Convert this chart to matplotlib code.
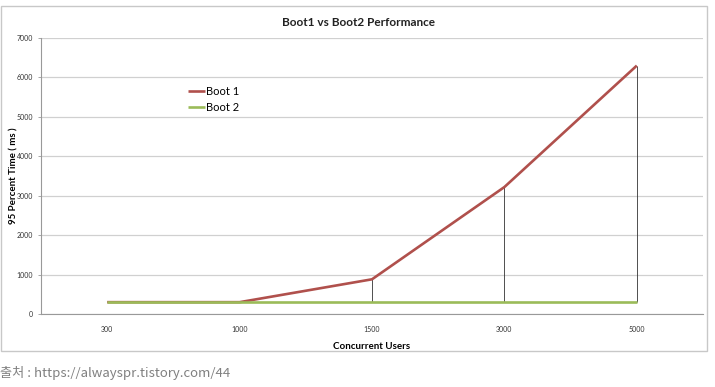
import matplotlib
matplotlib.use("Agg")
import matplotlib.pyplot as plt
from matplotlib.patches import Rectangle

categories = ["300", "1000", "1500", "3000", "5000"]
boot1 = [300, 300, 880, 3220, 6300]
boot2 = [300, 300, 300, 300, 300]
yticks = [0, 1000, 2000, 3000, 4000, 5000, 6000, 7000]

plt.rcParams['font.family'] = ['Lato', 'DejaVu Sans']

fig = plt.figure(figsize=(7.15, 3.87), dpi=100)
fig.patch.set_facecolor("white")

# chart frame
fig.patches.append(Rectangle((1/715, 1-351/387), 706/715, 345/387, transform=fig.transFigure,
                             fill=False, edgecolor="#c8c8c8", linewidth=1.0))

ax = fig.add_axes([41/715, 1-314/387, 662/715, 276/387])
x = list(range(len(categories)))

# high-low lines
ax.vlines(x, boot2, boot1, colors="#333333", linewidth=0.6, zorder=2)
ax.plot(x, boot1, color="#B0504C", linewidth=1.9, label="Boot 1", zorder=3, solid_capstyle="butt")
ax.plot(x, boot2, color="#9BBB59", linewidth=1.9, label="Boot 2", zorder=4, solid_capstyle="butt")

ax.set_xlim(-0.5, len(categories) - 0.5)
ax.set_ylim(0, 7000)
ax.set_yticks(yticks)
ax.set_yticklabels([str(v) for v in yticks], fontsize=5, color="#333333")
ax.set_xticks(x)
ax.set_xticklabels(categories, fontsize=5, color="#333333")
ax.tick_params(axis='x', length=0, pad=9)
ax.tick_params(axis='y', length=2.5, width=0.6, color="#999999", pad=3)
ax.grid(axis='y', color="#d0d0d0", linewidth=0.9)
ax.set_axisbelow(True)
for s in ["top", "right"]:
    ax.spines[s].set_visible(False)
for s in ["left", "bottom"]:
    ax.spines[s].set_color("#999999")
    ax.spines[s].set_linewidth(0.8)

ax.set_xlabel("Concurrent Users", fontsize=7, fontweight="bold", labelpad=6)
ax.set_ylabel("95 Percent Time ( ms )", fontsize=7, fontweight="bold")
ax.yaxis.set_label_coords(-0.034, 0.5)

fig.text(358/715, 1-22/387, "Boot1 vs Boot2 Performance", ha="center", va="center",
         fontsize=8.5, fontweight="bold", color="#222222")

ax.legend(loc="upper left", bbox_to_anchor=(147/662, 1-48/276), frameon=False,
          fontsize=8, handlelength=1.5, handletextpad=0.1, labelspacing=0.45,
          borderaxespad=0, borderpad=0)

fig.text(0, 1-373/387, "출처 : https://alwayspr.tistory.com/44", ha="left", va="center",
         fontsize=9.5, color="#808080", family=['Noto Sans CJK KR', 'DejaVu Sans'])

fig.savefig("out.png", dpi=100)
